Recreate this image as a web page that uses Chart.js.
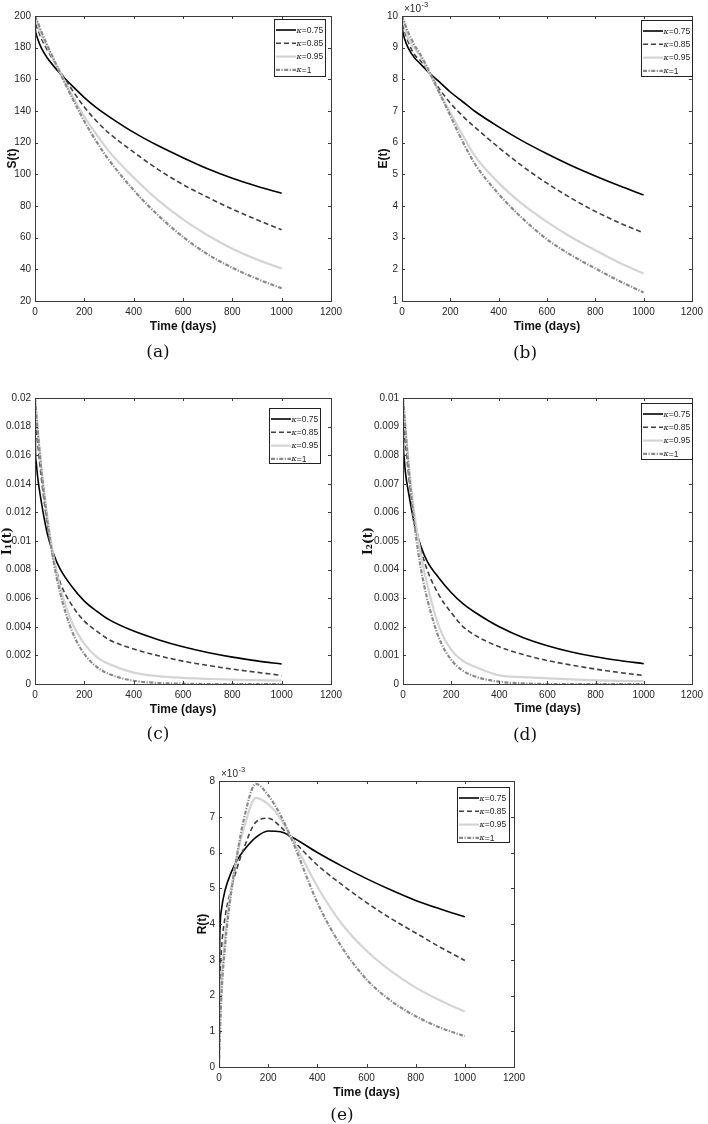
<!DOCTYPE html>
<html>
<head>
<meta charset="utf-8">
<script src="https://cdn.jsdelivr.net/npm/chart.js@4.4.1/dist/chart.umd.min.js"></script>
<style>
  html, body { margin: 0; padding: 0; background: #fff; }
  body { width: 708px; height: 1124px; position: relative; overflow: hidden; }
  canvas { position: absolute; }
  .cap {
    position: absolute;
    font-family: "DejaVu Serif", serif;
    font-size: 17px;
    color: #111;
    transform: translate(-50%, -50%);
    white-space: nowrap;
  }
</style>
</head>
<body>
<canvas id="chartS" width="354" height="342" style="left:0;top:0"></canvas>
<canvas id="chartE" width="354" height="342" style="left:354px;top:0"></canvas>
<canvas id="chartI1" width="354" height="352" style="left:0;top:372px"></canvas>
<canvas id="chartI2" width="354" height="352" style="left:354px;top:372px"></canvas>
<canvas id="chartR" width="370" height="372" style="left:170px;top:740px"></canvas>

<div class="cap" style="left:158px;top:351px">(a)</div>
<div class="cap" style="left:525px;top:352px">(b)</div>
<div class="cap" style="left:158px;top:733px">(c)</div>
<div class="cap" style="left:525px;top:734px">(d)</div>
<div class="cap" style="left:342px;top:1114px">(e)</div>

<script>
// time points (days)
const days = [0, 2, 5, 10, 25, 50, 75, 100, 150, 200, 250, 300, 400, 500, 600, 700, 800, 900, 1000];
const kappaLabels = ["0.75", "0.85", "0.95", "1"];

// (a) S(t)
const sK075 = [200, 191, 188.5, 186, 180, 173.5, 168.5, 164, 156, 148.5, 142, 136.5, 126.5, 118, 110.5, 103.5, 97.5, 92.5, 88];
const sK085 = [200, 196, 194, 192, 186, 178.5, 172, 165.5, 153.5, 142.5, 133.5, 126, 114, 103, 93.5, 85.5, 78, 71.3, 65];
const sK095 = [200, 199, 197.5, 195, 188.5, 180.5, 172.5, 165, 150, 136.5, 125, 114.5, 98, 83.5, 71.5, 61.5, 53, 46.2, 40.5];
const sK1 = [200, 199.3, 198.2, 196.5, 190.5, 181.5, 173, 164.5, 148.5, 133.5, 120.5, 109, 90, 74, 60.5, 49.5, 41, 34, 28];

// (b) E(t), in units of 10^-3
const eK075 = [10, 9.6, 9.45, 9.3, 9.0, 8.7, 8.5, 8.3, 7.95, 7.6, 7.3, 7.0, 6.5, 6.05, 5.65, 5.28, 4.95, 4.64, 4.35];
const eK085 = [10, 9.8, 9.7, 9.55, 9.2, 8.8, 8.6, 8.35, 7.75, 7.25, 6.85, 6.5, 5.85, 5.25, 4.72, 4.25, 3.83, 3.47, 3.15];
const eK095 = [10, 9.95, 9.85, 9.7, 9.3, 9.0, 8.75, 8.4, 7.65, 6.95, 6.25, 5.6, 4.73, 4.05, 3.5, 3.02, 2.6, 2.21, 1.87];
const eK1 = [10, 9.96, 9.9, 9.8, 9.5, 9.1, 8.8, 8.45, 7.65, 6.85, 6.05, 5.35, 4.38, 3.6, 2.95, 2.45, 2.03, 1.63, 1.27];

// (c) I1(t)
const i1K075 = [0.02, 0.0162, 0.0155, 0.0146, 0.0128, 0.0105, 0.0091, 0.0081, 0.0068, 0.0058, 0.0051, 0.0045, 0.0037, 0.0031, 0.0026, 0.0022, 0.00188, 0.00162, 0.0014];
const i1K085 = [0.02, 0.0185, 0.0178, 0.017, 0.0145, 0.0112, 0.0088, 0.0072, 0.0055, 0.0044, 0.0037, 0.0031, 0.00245, 0.00198, 0.0016, 0.0013, 0.00104, 0.00082, 0.0006];
const i1K095 = [0.02, 0.0196, 0.019, 0.018, 0.0153, 0.0117, 0.0089, 0.0069, 0.0043, 0.0028, 0.0019, 0.0014, 0.0008, 0.00055, 0.00043, 0.00036, 0.0003, 0.00027, 0.00024];
const i1K1 = [0.02, 0.0196, 0.0189, 0.0179, 0.0151, 0.0114, 0.0086, 0.0065, 0.0037, 0.0021, 0.0012, 0.0007, 0.00023, 0.00007, 0.00002, 0, 0, 0, 0];

// (d) I2(t)
const i2K075 = [0.01, 0.0083, 0.0079, 0.0074, 0.0066, 0.0055, 0.0048, 0.0043, 0.0037, 0.0032, 0.0028, 0.0025, 0.002, 0.00162, 0.00134, 0.00112, 0.00095, 0.00082, 0.00071];
const i2K085 = [0.01, 0.0092, 0.0088, 0.0084, 0.0072, 0.0057, 0.0047, 0.004, 0.0031, 0.0025, 0.002, 0.0017, 0.0013, 0.00103, 0.00082, 0.00066, 0.00052, 0.0004, 0.0003];
const i2K095 = [0.01, 0.0098, 0.0095, 0.009, 0.0076, 0.0058, 0.0045, 0.0035, 0.002, 0.0012, 0.0008, 0.0006, 0.0003, 0.00024, 0.0002, 0.00016, 0.00013, 0.00011, 0.0001];
const i2K1 = [0.01, 0.0098, 0.0095, 0.0089, 0.0074, 0.0054, 0.004, 0.003, 0.0016, 0.00085, 0.00046, 0.00026, 0.00008, 0.00002, 0, 0, 0, 0, 0];

// (e) R(t), in units of 10^-3
const rK075 = [0, 3.0, 4.0, 4.4, 4.95, 5.45, 5.8, 6.05, 6.42, 6.6, 6.58, 6.42, 6.0, 5.62, 5.27, 4.95, 4.66, 4.42, 4.2];
const rK085 = [0, 1.8, 2.6, 3.3, 4.2, 5.0, 5.6, 6.1, 6.85, 6.96, 6.72, 6.35, 5.65, 5.1, 4.6, 4.15, 3.75, 3.35, 2.98];
const rK095 = [0, 0.8, 1.6, 2.4, 3.7, 5.0, 5.95, 6.65, 7.53, 7.35, 6.95, 6.35, 5.05, 4.0, 3.25, 2.68, 2.22, 1.86, 1.55];
const rK1 = [0, 0.5, 1.1, 2.0, 3.4, 4.9, 6.0, 6.9, 7.92, 7.6, 7.05, 6.3, 4.6, 3.35, 2.45, 1.85, 1.42, 1.1, 0.86];

// tick labels
const timeTicks = [0, 200, 400, 600, 800, 1000, 1200];
const sTicks = [20, 40, 60, 80, 100, 120, 140, 160, 180, 200];
const eTicks = [1, 2, 3, 4, 5, 6, 7, 8, 9, 10];
const i1Ticks = [0, 0.002, 0.004, 0.006, 0.008, 0.01, 0.012, 0.014, 0.016, 0.018, 0.02];
const i2Ticks = [0, 0.001, 0.002, 0.003, 0.004, 0.005, 0.006, 0.007, 0.008, 0.009, 0.01];
const rTicks = [0, 1, 2, 3, 4, 5, 6, 7, 8];

const seriesStyles = [
  { color: "#000000", width: 1.6, dash: [] },
  { color: "#404040", width: 1.6, dash: [5, 3] },
  { color: "#d4d4d4", width: 2.2, dash: [] },
  { color: "#8a8a8a", width: 2.2, dash: [4, 1.5, 1.2, 1.5] },
];

const TICK_FONT = "'Liberation Sans Narrow', 'Liberation Sans', Arial, sans-serif";
const TEXT = "#262626";

// page-pixel layout of each panel
const panels = [
  {
    id: "chartS", series: [sK075, sK085, sK095, sK1], yTicks: sTicks, yTitle: "S(t)",
    canvas: { x: 0, y: 0, w: 354, h: 342 }, plot: { l: 35, t: 16, r: 331, b: 301 },
    xTitleY: 327, yTitleX: 13, legend: { l: 274, t: 19, w: 51, h: 57 },
  },
  {
    id: "chartE", series: [eK075, eK085, eK095, eK1], yTicks: eTicks, yTitle: "E(t)", exponent: true,
    canvas: { x: 354, y: 0, w: 354, h: 342 }, plot: { l: 402, t: 16, r: 698, b: 301 },
    xTitleY: 327, yTitleX: 384, legend: { l: 641, t: 20, w: 51, h: 56 },
  },
  {
    id: "chartI1", series: [i1K075, i1K085, i1K095, i1K1], yTicks: i1Ticks, yTitle: "I\u2081(t)", serifTitle: true,
    canvas: { x: 0, y: 372, w: 354, h: 352 }, plot: { l: 35, t: 398, r: 331, b: 684 },
    xTitleY: 710, yTitleX: 8, legend: { l: 269, t: 408, w: 51, h: 55 },
  },
  {
    id: "chartI2", series: [i2K075, i2K085, i2K095, i2K1], yTicks: i2Ticks, yTitle: "I\u2082(t)", serifTitle: true,
    canvas: { x: 354, y: 372, w: 354, h: 352 }, plot: { l: 403, t: 398, r: 697, b: 684 },
    xTitleY: 709, yTitleX: 369, legend: { l: 641, t: 403, w: 51, h: 56 },
  },
  {
    id: "chartR", series: [rK075, rK085, rK095, rK1], yTicks: rTicks, yTitle: "R(t)", exponent: true,
    canvas: { x: 170, y: 740, w: 370, h: 372 }, plot: { l: 219, t: 781, r: 514, b: 1067 },
    xTitleY: 1093, yTitleX: 203, legend: { l: 457, t: 787, w: 52, h: 55 },
  },
];

function formatTick(v) {
  if (v === 0) return "0";
  return String(+v.toFixed(4));
}

// MATLAB-like box with inward ticks on all four sides
const framePlugin = {
  id: "frame",
  afterDatasetsDraw(chart) {
    const { ctx, chartArea: a, scales } = chart;
    ctx.save();
    ctx.strokeStyle = "#3a3a3a";
    ctx.lineWidth = 1;
    ctx.setLineDash([]);
    ctx.strokeRect(Math.round(a.left) + 0.5, Math.round(a.top) + 0.5,
      Math.round(a.right - a.left), Math.round(a.bottom - a.top));
    ctx.beginPath();
    scales.x.ticks.forEach((t) => {
      const px = Math.round(scales.x.getPixelForValue(t.value)) + 0.5;
      ctx.moveTo(px, a.bottom); ctx.lineTo(px, a.bottom - 3);
      ctx.moveTo(px, a.top); ctx.lineTo(px, a.top + 3);
    });
    scales.y.ticks.forEach((t) => {
      const py = Math.round(scales.y.getPixelForValue(t.value)) + 0.5;
      ctx.moveTo(a.left, py); ctx.lineTo(a.left + 3, py);
      ctx.moveTo(a.right, py); ctx.lineTo(a.right - 3, py);
    });
    ctx.stroke();
    ctx.restore();
  },
};

// legend box drawn inside the top-right of the axes
const legendPlugin = {
  id: "boxLegend",
  afterDraw(chart, args, opts) {
    const { ctx } = chart;
    const b = opts.box;
    ctx.save();
    ctx.fillStyle = "#fff";
    ctx.fillRect(b.l, b.t, b.w, b.h);
    ctx.strokeStyle = "#222";
    ctx.lineWidth = 1;
    ctx.setLineDash([]);
    ctx.strokeRect(b.l + 0.5, b.t + 0.5, b.w, b.h);
    chart.data.datasets.forEach((ds, i) => {
      const y = b.t + 11 + i * 13.3;
      ctx.strokeStyle = ds.borderColor;
      ctx.lineWidth = ds.borderWidth;
      ctx.setLineDash(ds.borderDash || []);
      ctx.beginPath();
      ctx.moveTo(b.l + 2, y);
      ctx.lineTo(b.l + 22, y);
      ctx.stroke();
      ctx.fillStyle = TEXT;
      ctx.textBaseline = "middle";
      ctx.font = "italic 8px 'DejaVu Serif', serif";
      ctx.fillText("\u03ba", b.l + 22.5, y + 0.5);
      const kw = ctx.measureText("\u03ba").width;
      ctx.font = "8.5px " + TICK_FONT;
      ctx.fillText("=" + kappaLabels[i], b.l + 22.5 + kw, y + 0.5);
    });
    ctx.restore();
  },
};

// "x10^-3" multiplier above the y axis
const exponentPlugin = {
  id: "exponent",
  afterDraw(chart, args, opts) {
    if (!opts.show) return;
    const { ctx, chartArea: a } = chart;
    ctx.save();
    ctx.fillStyle = TEXT;
    ctx.textBaseline = "alphabetic";
    ctx.font = "10px " + TICK_FONT;
    ctx.fillText("\u00d710", a.left + 2, a.top - 4);
    const w = ctx.measureText("\u00d710").width;
    ctx.font = "7.5px " + TICK_FONT;
    ctx.fillText("-3", a.left + 2 + w + 0.5, a.top - 9);
    ctx.restore();
  },
};

panels.forEach((p) => {
  const c = p.canvas;
  const titleFont = { family: TICK_FONT, size: 12, weight: "bold" };
  const yTitleFont = p.serifTitle
    ? { family: "'DejaVu Serif', serif", size: 12, weight: "bold" }
    : titleFont;
  const yLine = yTitleFont.size * 1.2;
  const xLine = titleFont.size * 1.2;

  const datasets = p.series.map((vals, i) => ({
    label: "\u03ba=" + kappaLabels[i],
    data: days.map((t, k) => ({ x: t, y: vals[k] })),
    borderColor: seriesStyles[i].color,
    borderWidth: seriesStyles[i].width,
    borderDash: seriesStyles[i].dash,
    pointRadius: 0,
    fill: false,
    cubicInterpolationMode: "monotone",
    order: 3 - i,
  }));

  new Chart(document.getElementById(p.id), {
    type: "line",
    data: { datasets },
    options: {
      responsive: false,
      animation: false,
      devicePixelRatio: 1,
      layout: {
        padding: { left: 0, top: p.plot.t - c.y, right: c.x + c.w - p.plot.r, bottom: 0 },
      },
      plugins: {
        legend: { display: false },
        tooltip: { enabled: false },
        boxLegend: { box: { l: p.legend.l - c.x, t: p.legend.t - c.y, w: p.legend.w, h: p.legend.h } },
        exponent: { show: !!p.exponent },
      },
      scales: {
        x: {
          type: "linear",
          min: timeTicks[0],
          max: timeTicks[timeTicks.length - 1],
          afterBuildTicks: (s) => { s.ticks = timeTicks.map((v) => ({ value: v })); },
          afterFit: (s) => { s.height = c.y + c.h - p.plot.b; },
          grid: { display: false, drawTicks: false },
          border: { display: false },
          ticks: {
            padding: 5, color: TEXT, font: { family: TICK_FONT, size: 10 },
            maxRotation: 0, autoSkip: false, callback: (v) => String(v),
          },
          title: {
            display: true, text: "Time (days)", color: "#111", font: titleFont,
            padding: { top: 0, bottom: c.y + c.h - p.xTitleY - xLine / 2 },
          },
        },
        y: {
          type: "linear",
          min: p.yTicks[0],
          max: p.yTicks[p.yTicks.length - 1],
          afterBuildTicks: (s) => { s.ticks = p.yTicks.map((v) => ({ value: v })); },
          afterFit: (s) => { s.width = p.plot.l - c.x; },
          grid: { display: false, drawTicks: false },
          border: { display: false },
          ticks: { padding: 4, color: TEXT, font: { family: TICK_FONT, size: 10 }, autoSkip: false, callback: formatTick },
          title: {
            display: true, text: p.yTitle, color: "#111", font: yTitleFont,
            padding: { top: p.yTitleX - c.x - yLine / 2, bottom: 0 },
          },
        },
      },
    },
    plugins: [framePlugin, legendPlugin, exponentPlugin],
  });
});
</script>
</body>
</html>
